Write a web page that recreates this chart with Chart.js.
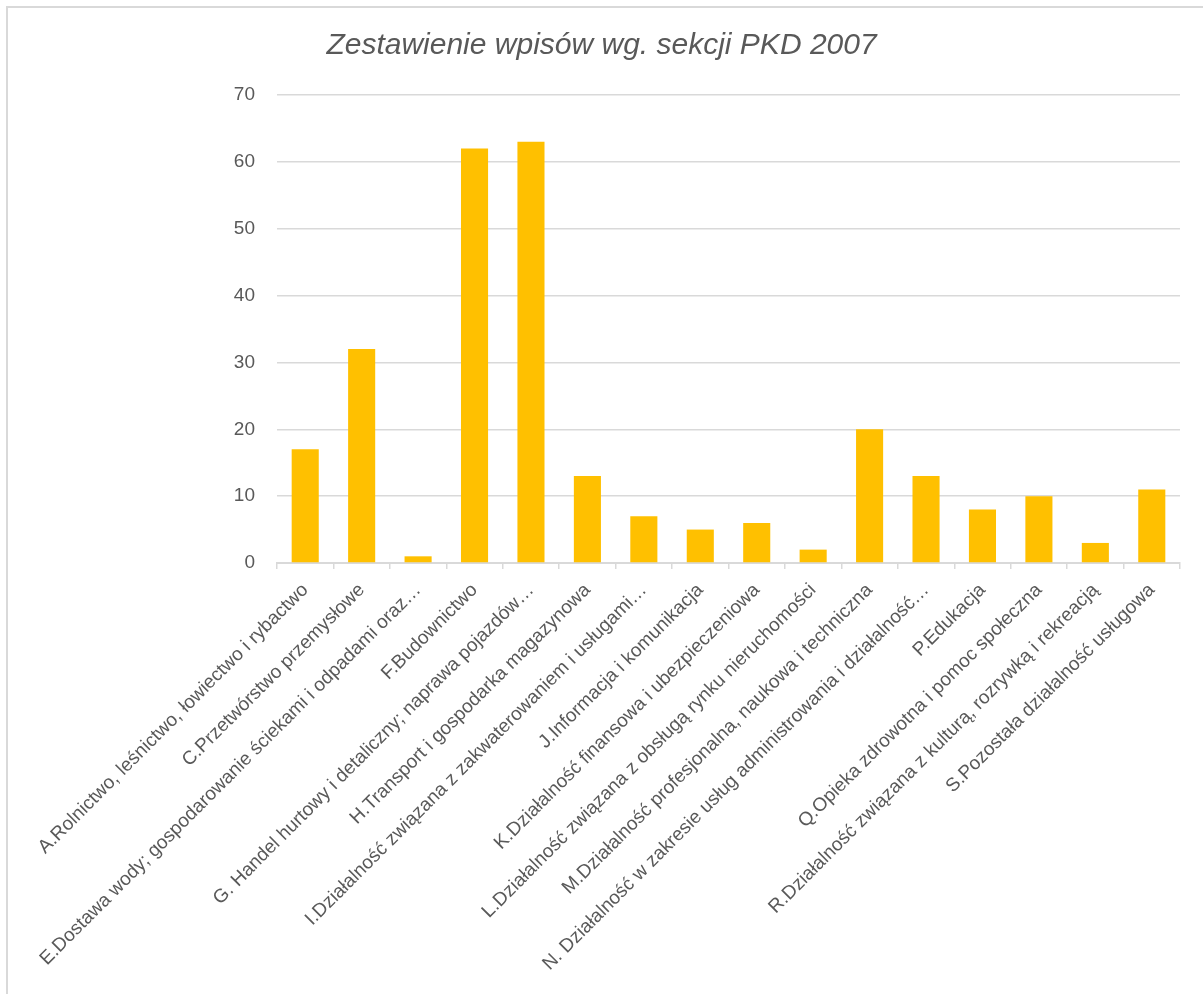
<!DOCTYPE html>
<html>
<head>
<meta charset="utf-8">
<script src="https://cdn.jsdelivr.net/npm/chart.js@4/dist/chart.umd.min.js"></script>
<style>
html, body { margin: 0; padding: 0; background: #fff; }
#wrap { position: relative; width: 1203px; height: 994px; }
#frame { position: absolute; left: 6px; top: 6px; right: 0; bottom: 0; border-left: 2px solid #d9d9d9; border-top: 2px solid #d9d9d9; pointer-events: none; }
canvas { position: absolute; left: 0; top: 0; }
</style>
</head>
<body>
<div id="wrap">
<canvas id="pkdChart" width="1203" height="994"></canvas>
<div id="frame"></div>
</div>
<script>
const sections = [
"A.Rolnictwo, leśnictwo, łowiectwo i rybactwo",
"C.Przetwórstwo przemysłowe",
"E.Dostawa wody; gospodarowanie ściekami i odpadami oraz…",
"F.Budownictwo",
"G. Handel hurtowy i detaliczny; naprawa pojazdów…",
"H.Transport i gospodarka magazynowa",
"I.Działalność związana z zakwaterowaniem i usługami…",
"J.Informacja i komunikacja",
"K.Działalność finansowa i ubezpieczeniowa",
"L.Działalność związana z obsługą rynku nieruchomości",
"M.Działalność profesjonalna, naukowa i techniczna",
"N. Działalność w zakresie usług administrowania i działalność…",
"P.Edukacja",
"Q.Opieka zdrowotna i pomoc społeczna",
"R.Działalność związana z kulturą, rozrywką i rekreacją",
"S.Pozostała działalność usługowa"
]
const entries = [17, 32, 1, 62, 63, 13, 7, 5, 6, 2, 20, 13, 8, 10, 3, 11]
const yTicks = [0, 10, 20, 30, 40, 50, 60, 70]

const textColor = "#595959"
const gridColor = "#d9d9d9"

const ctx = document.getElementById("pkdChart")

new Chart(ctx, {
type: "bar",
data: {
labels: sections,
datasets: [{
label: "Liczba wpisów",
data: entries,
backgroundColor: "#FFC000",
borderColor: "#FFC000",
borderWidth: 0,
barPercentage: 0.48,
categoryPercentage: 1
}]
},
options: {
responsive: false,
animation: false,
layout: { padding: 0 },
plugins: {
legend: { display: false },
tooltip: { enabled: false },
title: {
display: true,
text: "Zestawienie wpisów wg. sekcji PKD 2007",
color: textColor,
font: { family: "Liberation Sans", size: 30, style: "italic", weight: "normal" },
padding: { top: 28, bottom: 31 }
}
},
scales: {
x: {
offset: true,
grid: { display: true, offset: true, drawOnChartArea: false, drawTicks: true, tickLength: 6, color: gridColor, lineWidth: 1.5 },
border: { display: true, color: gridColor, width: 2 },
ticks: {
autoSkip: false,
maxRotation: 45,
minRotation: 45,
padding: 10,
color: textColor,
font: { family: "Liberation Sans", size: 19 }
},
afterFit: function(scale){ scale.height = 431 }
},
y: {
min: 0,
max: 70,
afterBuildTicks: function(scale){ scale.ticks = yTicks.map(v => ({ value: v })) },
grid: { color: gridColor, lineWidth: 1.5, drawTicks: false },
border: { display: false },
ticks: {
padding: 22,
color: textColor,
font: { family: "Liberation Sans", size: 19 }
},
afterFit: function(scale){ scale.width = 277 }
},
// empty right margin so the title centres on the whole chart
yRight: {
position: "right",
min: 0,
max: 70,
grid: { display: false },
border: { display: false },
ticks: { display: false },
afterFit: function(scale){ scale.width = 23 }
}
}
}
})
</script>
</body>
</html>
